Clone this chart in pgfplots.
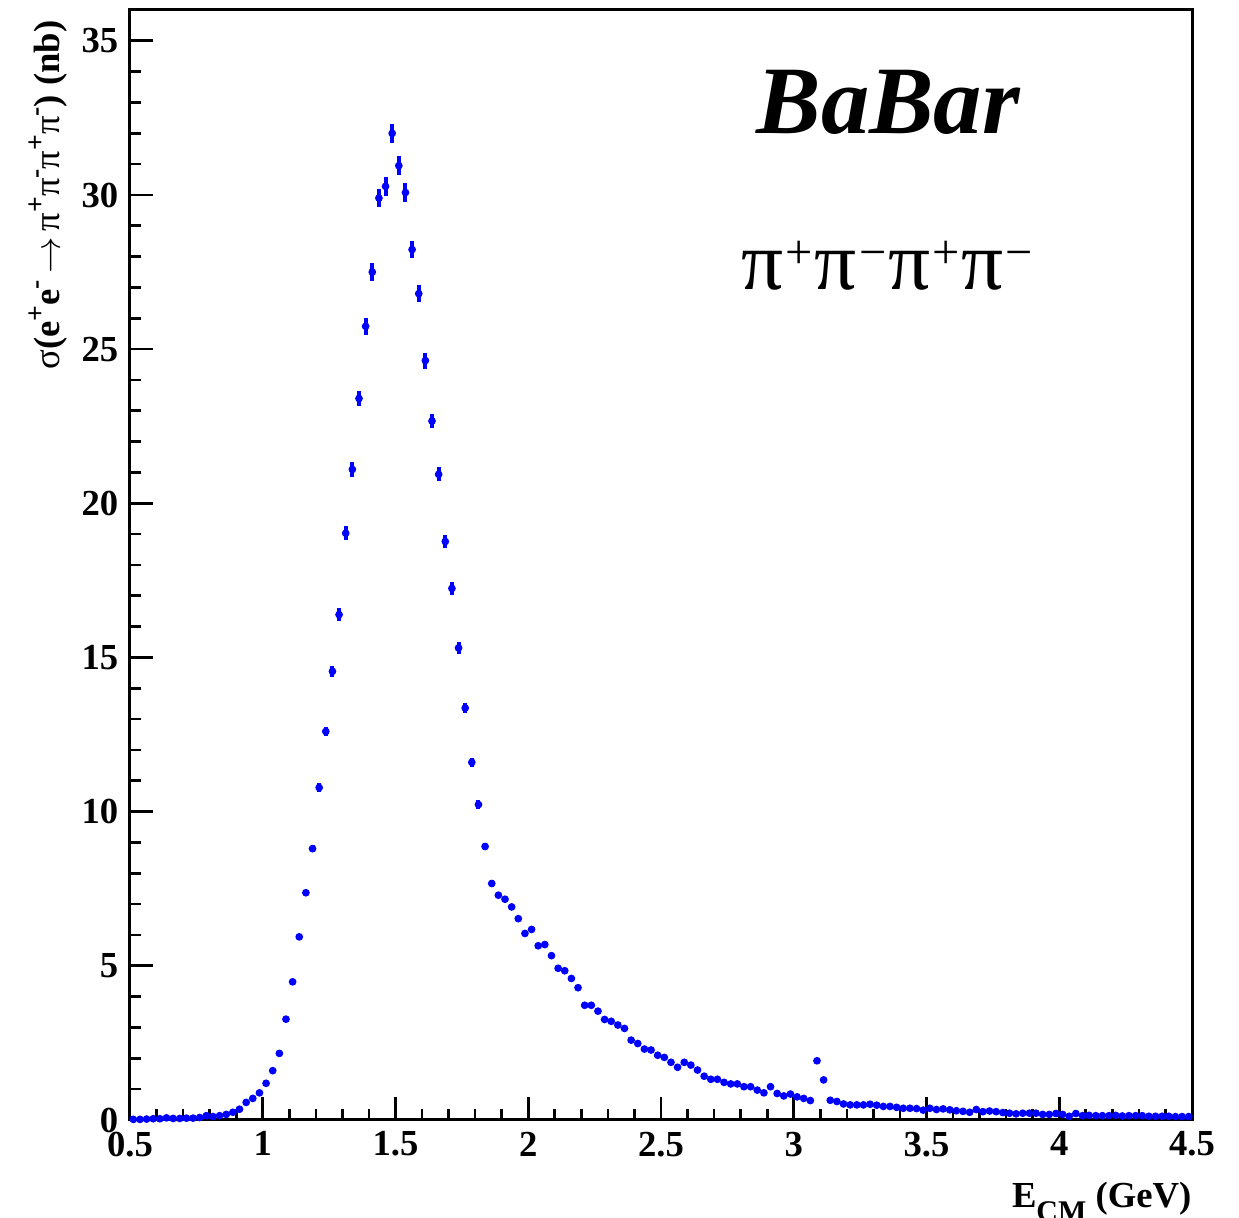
\documentclass[border=0pt]{standalone}
\usepackage{fontspec}
\setmainfont{Liberation Serif}
\usepackage{pgfplots}
\pgfplotsset{compat=1.18}
\usepackage{pgfplotstable}

\pgfplotstableread{
x y e
0.5125 0.02 0.01
0.5375 0.02 0.01
0.5625 0.03 0.01
0.5875 0.04 0.01
0.6125 0.04 0.01
0.6375 0.07 0.01
0.6625 0.05 0.01
0.6875 0.05 0.01
0.7125 0.06 0.01
0.7375 0.06 0.01
0.7625 0.08 0.02
0.7875 0.14 0.02
0.8125 0.11 0.02
0.8375 0.14 0.02
0.8625 0.18 0.02
0.8875 0.25 0.03
0.9125 0.35 0.03
0.9375 0.57 0.03
0.9625 0.70 0.04
0.9875 0.88 0.04
1.0125 1.19 0.05
1.0375 1.60 0.05
1.0625 2.16 0.06
1.0875 3.27 0.07
1.1125 4.48 0.08
1.1375 5.94 0.09
1.1625 7.37 0.10
1.1875 8.80 0.12
1.2125 10.78 0.14
1.2375 12.60 0.16
1.2625 14.55 0.18
1.2875 16.39 0.20
1.3125 19.03 0.22
1.3375 21.10 0.24
1.3625 23.40 0.25
1.3875 25.74 0.27
1.4125 27.50 0.28
1.4375 29.90 0.30
1.4625 30.28 0.30
1.4875 32.00 0.31
1.5125 30.95 0.30
1.5375 30.08 0.30
1.5625 28.23 0.28
1.5875 26.80 0.27
1.6125 24.63 0.26
1.6375 22.67 0.24
1.6625 20.94 0.23
1.6875 18.76 0.21
1.7125 17.24 0.20
1.7375 15.31 0.19
1.7625 13.36 0.17
1.7875 11.60 0.15
1.8125 10.23 0.14
1.8375 8.87 0.12
1.8625 7.67 0.11
1.8875 7.29 0.10
1.9125 7.16 0.10
1.9375 6.91 0.10
1.9625 6.53 0.09
1.9875 6.05 0.09
2.0125 6.18 0.09
2.0375 5.65 0.08
2.0625 5.69 0.08
2.0875 5.33 0.08
2.1125 4.92 0.07
2.1375 4.84 0.07
2.1625 4.59 0.07
2.1875 4.29 0.07
2.2125 3.72 0.06
2.2375 3.72 0.06
2.2625 3.53 0.06
2.2875 3.26 0.06
2.3125 3.20 0.06
2.3375 3.08 0.05
2.3625 2.97 0.05
2.3875 2.59 0.05
2.4125 2.48 0.05
2.4375 2.30 0.05
2.4625 2.27 0.05
2.4875 2.10 0.04
2.5125 2.03 0.04
2.5375 1.87 0.04
2.5625 1.71 0.04
2.5875 1.87 0.04
2.6125 1.78 0.04
2.6375 1.62 0.04
2.6625 1.42 0.04
2.6875 1.32 0.03
2.7125 1.32 0.03
2.7375 1.22 0.03
2.7625 1.17 0.03
2.7875 1.17 0.03
2.8125 1.08 0.03
2.8375 1.08 0.03
2.8625 0.97 0.03
2.8875 0.88 0.03
2.9125 1.08 0.03
2.9375 0.86 0.03
2.9625 0.78 0.03
2.9875 0.84 0.03
3.0125 0.75 0.03
3.0375 0.70 0.03
3.0625 0.63 0.02
3.0875 1.92 0.04
3.1125 1.30 0.03
3.1375 0.64 0.02
3.1625 0.60 0.02
3.1875 0.52 0.02
3.2125 0.49 0.02
3.2375 0.49 0.02
3.2625 0.49 0.02
3.2875 0.51 0.02
3.3125 0.48 0.02
3.3375 0.44 0.02
3.3625 0.44 0.02
3.3875 0.41 0.02
3.4125 0.38 0.02
3.4375 0.38 0.02
3.4625 0.37 0.02
3.4875 0.32 0.02
3.5125 0.38 0.02
3.5375 0.34 0.02
3.5625 0.36 0.02
3.5875 0.33 0.02
3.6125 0.30 0.02
3.6375 0.28 0.02
3.6625 0.25 0.02
3.6875 0.34 0.02
3.7125 0.27 0.02
3.7375 0.29 0.02
3.7625 0.27 0.02
3.7875 0.24 0.02
3.8125 0.22 0.02
3.8375 0.20 0.02
3.8625 0.22 0.02
3.8875 0.22 0.02
3.9125 0.22 0.02
3.9375 0.18 0.02
3.9625 0.18 0.02
3.9875 0.21 0.02
4.0125 0.18 0.02
4.0375 0.12 0.02
4.0625 0.21 0.02
4.0875 0.14 0.02
4.1125 0.15 0.02
4.1375 0.14 0.02
4.1625 0.14 0.02
4.1875 0.14 0.02
4.2125 0.15 0.02
4.2375 0.13 0.02
4.2625 0.14 0.02
4.2875 0.14 0.02
4.3125 0.14 0.02
4.3375 0.12 0.02
4.3625 0.12 0.02
4.3875 0.12 0.02
4.4125 0.12 0.02
4.4375 0.11 0.02
4.4625 0.11 0.02
4.4875 0.11 0.02
}\data

\newcommand{\pisup}[1]{\kern0.6pt\raisebox{6.4pt}{\fontsize{14.5}{14.5}\selectfont #1}\kern0.6pt}
\newcommand{\ysup}[1]{\raisebox{0.42em}{\fontsize{8.3}{9}\selectfont\bfseries #1}}

\begin{document}
\begin{tikzpicture}
\begin{axis}[
  scale only axis, width=318.6pt, height=333pt,
  xmin=0.5, xmax=4.5, ymin=0, ymax=36,
  xtick={0.5,1,1.5,2,2.5,3,3.5,4,4.5},
  ytick={0,5,10,15,20,25,30,35},
  minor x tick num=4, minor y tick num=4,
  tick align=inside, xtick pos=bottom, ytick pos=left,
  major tick length=6.8pt, minor tick length=3.4pt,
  axis line style={line width=0.9pt},
  tick style={line width=0.8pt, black},
  ticklabel style={font=\fontsize{11}{13}\selectfont\bfseries},
  /pgf/number format/assume math mode=true,
  clip=false,
]
\addplot[only marks, mark=*, mark size=0.95pt, color=blue,
  error bars/.cd, y dir=both, y explicit, error mark=none,
  error bar style={line width=1.2pt, blue}]
  table[x=x, y=y, y error=e]{\data};

\node[font=\fontsize{29}{30}\selectfont\bfseries\itshape, anchor=base]
  at (rel axis cs:0.714,0.889) {BaBar};
\node[font=\fontsize{25}{27}\selectfont, anchor=base]
  at (rel axis cs:0.714,0.748) {π\pisup{+}π\pisup{−}π\pisup{+}π\pisup{−}};
\node[xshift=-21pt, yshift=-3pt, rotate=90, anchor=base east, font=\fontsize{11}{13}\selectfont, inner sep=0pt]
  at (rel axis cs:0,1) {σ\textbf{(e\ysup{+}e\ysup{-}}\,$\rightarrow$\,π\ysup{+}π\ysup{-}π\ysup{+}π\ysup{-}\textbf{) (nb)}};
\node[yshift=-26.4pt, xshift=0pt, anchor=base east, font=\fontsize{11}{13}\selectfont\bfseries, inner sep=0pt]
  at (rel axis cs:1,0) {E\raisebox{-0.38em}{\fontsize{9}{10}\selectfont CM} (GeV)};
\end{axis}
\pgfresetboundingbox
\path[use as bounding box] (current axis.south west) ++(-39pt,-29.4pt) rectangle ([shift={(14.1pt,3pt)}]current axis.north east);
\end{tikzpicture}
\end{document}
